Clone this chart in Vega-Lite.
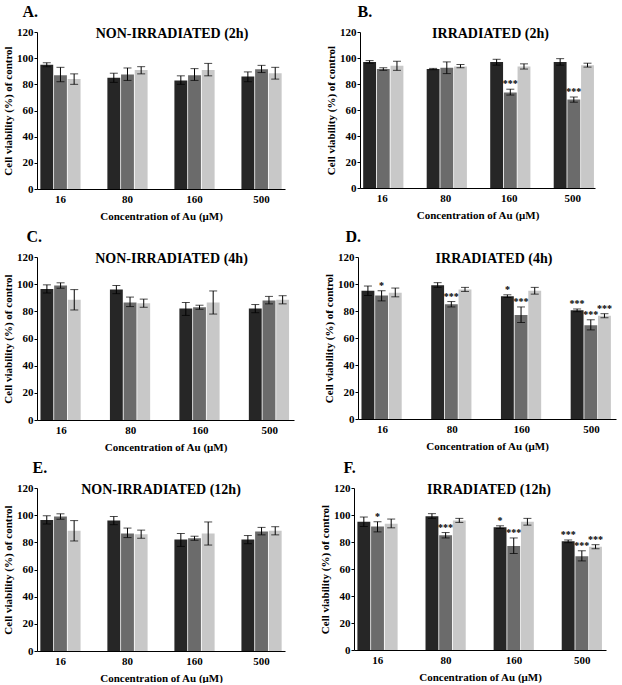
{
  "$schema": "https://vega.github.io/schema/vega-lite/v6.json",
  "padding": {"left": 2, "top": 4, "right": 2, "bottom": 0},
  "background": "white",
  "datasets": {
    "d": [
      {"p":"A","c":"16","g":"1","v":95,"lo":93.5,"hi":96.5,"s":""},
      {"p":"A","c":"16","g":"2","v":87,"lo":82,"hi":93,"s":""},
      {"p":"A","c":"16","g":"3","v":84,"lo":80,"hi":88,"s":""},
      {"p":"A","c":"80","g":"1","v":85,"lo":81.5,"hi":88.5,"s":""},
      {"p":"A","c":"80","g":"2","v":87.5,"lo":83,"hi":92.5,"s":""},
      {"p":"A","c":"80","g":"3","v":91,"lo":88,"hi":93.5,"s":""},
      {"p":"A","c":"160","g":"1","v":83,"lo":80,"hi":86.5,"s":""},
      {"p":"A","c":"160","g":"2","v":87,"lo":83,"hi":92,"s":""},
      {"p":"A","c":"160","g":"3","v":91,"lo":86.5,"hi":96,"s":""},
      {"p":"A","c":"500","g":"1","v":86,"lo":82,"hi":89.5,"s":""},
      {"p":"A","c":"500","g":"2","v":91.5,"lo":89,"hi":94.5,"s":""},
      {"p":"A","c":"500","g":"3","v":88.5,"lo":84,"hi":93,"s":""},
      {"p":"B","c":"16","g":"1","v":97,"lo":96,"hi":98,"s":""},
      {"p":"B","c":"16","g":"2","v":91.5,"lo":90.5,"hi":92.5,"s":""},
      {"p":"B","c":"16","g":"3","v":94,"lo":90.5,"hi":97.5,"s":""},
      {"p":"B","c":"80","g":"1","v":91.5,"lo":91,"hi":92,"s":""},
      {"p":"B","c":"80","g":"2","v":92.5,"lo":88,"hi":97,"s":""},
      {"p":"B","c":"80","g":"3","v":93.5,"lo":92.5,"hi":95,"s":""},
      {"p":"B","c":"160","g":"1","v":97,"lo":94.5,"hi":99,"s":""},
      {"p":"B","c":"160","g":"2","v":73.5,"lo":71.5,"hi":76,"s":"***"},
      {"p":"B","c":"160","g":"3","v":93.5,"lo":91.5,"hi":95.5,"s":""},
      {"p":"B","c":"500","g":"1","v":97,"lo":94.5,"hi":99.5,"s":""},
      {"p":"B","c":"500","g":"2","v":68,"lo":66,"hi":70,"s":"***"},
      {"p":"B","c":"500","g":"3","v":94.5,"lo":93,"hi":96,"s":""},
      {"p":"C","c":"16","g":"1","v":96.5,"lo":93.5,"hi":99.5,"s":""},
      {"p":"C","c":"16","g":"2","v":99,"lo":97,"hi":101,"s":""},
      {"p":"C","c":"16","g":"3","v":88.5,"lo":81,"hi":96,"s":""},
      {"p":"C","c":"80","g":"1","v":96,"lo":93,"hi":99,"s":""},
      {"p":"C","c":"80","g":"2","v":86.5,"lo":83.5,"hi":90.5,"s":""},
      {"p":"C","c":"80","g":"3","v":86,"lo":83,"hi":89,"s":""},
      {"p":"C","c":"160","g":"1","v":82,"lo":77,"hi":86.5,"s":""},
      {"p":"C","c":"160","g":"2","v":83,"lo":81.5,"hi":84.5,"s":""},
      {"p":"C","c":"160","g":"3","v":86.5,"lo":78,"hi":95,"s":""},
      {"p":"C","c":"500","g":"1","v":82,"lo":79,"hi":85,"s":""},
      {"p":"C","c":"500","g":"2","v":88,"lo":85.5,"hi":91,"s":""},
      {"p":"C","c":"500","g":"3","v":88.5,"lo":85.5,"hi":91.5,"s":""},
      {"p":"D","c":"16","g":"1","v":95,"lo":91.5,"hi":98.5,"s":""},
      {"p":"D","c":"16","g":"2","v":91.5,"lo":87.5,"hi":95,"s":"*"},
      {"p":"D","c":"16","g":"3","v":93.5,"lo":90.5,"hi":97,"s":""},
      {"p":"D","c":"80","g":"1","v":99,"lo":97.5,"hi":101,"s":""},
      {"p":"D","c":"80","g":"2","v":85,"lo":83,"hi":87,"s":"***"},
      {"p":"D","c":"80","g":"3","v":96,"lo":94.5,"hi":97.5,"s":""},
      {"p":"D","c":"160","g":"1","v":91,"lo":90,"hi":92,"s":"*"},
      {"p":"D","c":"160","g":"2","v":77,"lo":71.5,"hi":83,"s":"***"},
      {"p":"D","c":"160","g":"3","v":95,"lo":92.5,"hi":97.5,"s":""},
      {"p":"D","c":"500","g":"1","v":80.5,"lo":79.5,"hi":81.5,"s":"***"},
      {"p":"D","c":"500","g":"2","v":69.5,"lo":66,"hi":73.5,"s":"***"},
      {"p":"D","c":"500","g":"3","v":76.5,"lo":75,"hi":78,"s":"***"},
      {"p":"E","c":"16","g":"1","v":96.5,"lo":93.5,"hi":99.5,"s":""},
      {"p":"E","c":"16","g":"2","v":99,"lo":97,"hi":101,"s":""},
      {"p":"E","c":"16","g":"3","v":88.5,"lo":81,"hi":96,"s":""},
      {"p":"E","c":"80","g":"1","v":96,"lo":93,"hi":99,"s":""},
      {"p":"E","c":"80","g":"2","v":86.5,"lo":83.5,"hi":90.5,"s":""},
      {"p":"E","c":"80","g":"3","v":86,"lo":83,"hi":89,"s":""},
      {"p":"E","c":"160","g":"1","v":82,"lo":77,"hi":86.5,"s":""},
      {"p":"E","c":"160","g":"2","v":83,"lo":81.5,"hi":84.5,"s":""},
      {"p":"E","c":"160","g":"3","v":86.5,"lo":78,"hi":95,"s":""},
      {"p":"E","c":"500","g":"1","v":82,"lo":79,"hi":85,"s":""},
      {"p":"E","c":"500","g":"2","v":88,"lo":85.5,"hi":91,"s":""},
      {"p":"E","c":"500","g":"3","v":88.5,"lo":85.5,"hi":91.5,"s":""},
      {"p":"F","c":"16","g":"1","v":95,"lo":91.5,"hi":98.5,"s":""},
      {"p":"F","c":"16","g":"2","v":91.5,"lo":87.5,"hi":95,"s":"*"},
      {"p":"F","c":"16","g":"3","v":93.5,"lo":90.5,"hi":97,"s":""},
      {"p":"F","c":"80","g":"1","v":99,"lo":97.5,"hi":101,"s":""},
      {"p":"F","c":"80","g":"2","v":85,"lo":83,"hi":87,"s":"***"},
      {"p":"F","c":"80","g":"3","v":96,"lo":94.5,"hi":97.5,"s":""},
      {"p":"F","c":"160","g":"1","v":91,"lo":90,"hi":92,"s":"*"},
      {"p":"F","c":"160","g":"2","v":77,"lo":71.5,"hi":83,"s":"***"},
      {"p":"F","c":"160","g":"3","v":95,"lo":92.5,"hi":97.5,"s":""},
      {"p":"F","c":"500","g":"1","v":80.5,"lo":79.5,"hi":81.5,"s":"***"},
      {"p":"F","c":"500","g":"2","v":69.5,"lo":66,"hi":73.5,"s":"***"},
      {"p":"F","c":"500","g":"3","v":76.5,"lo":75,"hi":78,"s":"***"}
    ]
  },
  "vconcat": [
    {
      "spacing": 40,
      "hconcat": [
        {
          "title": {"text": "A.", "anchor": "start", "fontSize": 16, "dx": 20, "offset": 6},
          "vconcat": [{
            "width": 248, "height": 157,
            "title": {"text": "NON-IRRADIATED (2h)", "offset": -15, "dx": 11},
            "data": {"name": "d"},
            "transform": [{"filter": "datum.p == 'A'"}],
            "encoding": {
              "x": {"field": "c", "type": "nominal", "sort": ["16","80","160","500"], "scale": {"paddingInner": 0.4, "paddingOuter": 0.05}, "title": "Concentration of Au (μM)"},
              "xOffset": {"field": "g", "type": "nominal", "scale": {"paddingInner": 0.06}}
            },
            "layer": [
              {"mark": {"type": "bar"}, "encoding": {"y": {"field": "v", "type": "quantitative", "scale": {"domain": [0,120]}, "title": "Cell viability (%) of control"}, "color": {"field": "g", "type": "nominal", "scale": {"domain": ["1","2","3"], "range": ["#262626","#6b6b6b","#c8c8c8"]}, "legend": null}}},
              {"mark": {"type": "rule", "color": "black", "strokeWidth": 1}, "encoding": {"y": {"field": "lo", "type": "quantitative", "scale": {"domain": [0,120]}, "title": "Cell viability (%) of control"}, "y2": {"field": "hi"}}},
              {"mark": {"type": "tick", "color": "black", "size": 8, "thickness": 1}, "encoding": {"y": {"field": "lo", "type": "quantitative", "scale": {"domain": [0,120]}, "title": "Cell viability (%) of control"}}},
              {"mark": {"type": "tick", "color": "black", "size": 8, "thickness": 1}, "encoding": {"y": {"field": "hi", "type": "quantitative", "scale": {"domain": [0,120]}, "title": "Cell viability (%) of control"}}},
              {"mark": {"type": "text", "baseline": "alphabetic", "dy": -2, "fontSize": 10, "fontWeight": "bold", "font": "Liberation Serif", "color": "black"}, "encoding": {"y": {"field": "hi", "type": "quantitative", "scale": {"domain": [0,120]}, "title": "Cell viability (%) of control"}, "text": {"field": "s"}}}
            ]
          }]
        },
        {
          "title": {"text": "B.", "anchor": "start", "fontSize": 16, "dx": 32, "offset": 6},
          "vconcat": [{
            "width": 235, "height": 156,
            "title": {"text": "IRRADIATED (2h)", "offset": -15, "dx": 13},
            "data": {"name": "d"},
            "transform": [{"filter": "datum.p == 'B'"}],
            "encoding": {
              "x": {"field": "c", "type": "nominal", "sort": ["16","80","160","500"], "scale": {"paddingInner": 0.4, "paddingOuter": 0.05}, "title": "Concentration of Au (μM)"},
              "xOffset": {"field": "g", "type": "nominal", "scale": {"paddingInner": 0.06}}
            },
            "layer": [
              {"mark": {"type": "bar"}, "encoding": {"y": {"field": "v", "type": "quantitative", "scale": {"domain": [0,120]}, "title": "Cell viability (%) of control"}, "color": {"field": "g", "type": "nominal", "scale": {"domain": ["1","2","3"], "range": ["#262626","#6b6b6b","#c8c8c8"]}, "legend": null}}},
              {"mark": {"type": "rule", "color": "black", "strokeWidth": 1}, "encoding": {"y": {"field": "lo", "type": "quantitative", "scale": {"domain": [0,120]}, "title": "Cell viability (%) of control"}, "y2": {"field": "hi"}}},
              {"mark": {"type": "tick", "color": "black", "size": 8, "thickness": 1}, "encoding": {"y": {"field": "lo", "type": "quantitative", "scale": {"domain": [0,120]}, "title": "Cell viability (%) of control"}}},
              {"mark": {"type": "tick", "color": "black", "size": 8, "thickness": 1}, "encoding": {"y": {"field": "hi", "type": "quantitative", "scale": {"domain": [0,120]}, "title": "Cell viability (%) of control"}}},
              {"mark": {"type": "text", "baseline": "alphabetic", "dy": -2, "fontSize": 10, "fontWeight": "bold", "font": "Liberation Serif", "color": "black"}, "encoding": {"y": {"field": "hi", "type": "quantitative", "scale": {"domain": [0,120]}, "title": "Cell viability (%) of control"}, "text": {"field": "s"}}}
            ]
          }]
        }
      ]
    },
    {
      "spacing": 29,
      "hconcat": [
        {
          "title": {"text": "C.", "anchor": "start", "fontSize": 16, "dx": 24, "offset": 6},
          "vconcat": [{
            "width": 257, "height": 163,
            "title": {"text": "NON-IRRADIATED (4h)", "offset": -15, "dx": 6},
            "data": {"name": "d"},
            "transform": [{"filter": "datum.p == 'C'"}],
            "encoding": {
              "x": {"field": "c", "type": "nominal", "sort": ["16","80","160","500"], "scale": {"paddingInner": 0.4, "paddingOuter": 0.05}, "title": "Concentration of Au (μM)"},
              "xOffset": {"field": "g", "type": "nominal", "scale": {"paddingInner": 0.06}}
            },
            "layer": [
              {"mark": {"type": "bar"}, "encoding": {"y": {"field": "v", "type": "quantitative", "scale": {"domain": [0,120]}, "title": "Cell viability (%) of control"}, "color": {"field": "g", "type": "nominal", "scale": {"domain": ["1","2","3"], "range": ["#262626","#6b6b6b","#c8c8c8"]}, "legend": null}}},
              {"mark": {"type": "rule", "color": "black", "strokeWidth": 1}, "encoding": {"y": {"field": "lo", "type": "quantitative", "scale": {"domain": [0,120]}, "title": "Cell viability (%) of control"}, "y2": {"field": "hi"}}},
              {"mark": {"type": "tick", "color": "black", "size": 8, "thickness": 1}, "encoding": {"y": {"field": "lo", "type": "quantitative", "scale": {"domain": [0,120]}, "title": "Cell viability (%) of control"}}},
              {"mark": {"type": "tick", "color": "black", "size": 8, "thickness": 1}, "encoding": {"y": {"field": "hi", "type": "quantitative", "scale": {"domain": [0,120]}, "title": "Cell viability (%) of control"}}},
              {"mark": {"type": "text", "baseline": "alphabetic", "dy": -2, "fontSize": 10, "fontWeight": "bold", "font": "Liberation Serif", "color": "black"}, "encoding": {"y": {"field": "hi", "type": "quantitative", "scale": {"domain": [0,120]}, "title": "Cell viability (%) of control"}, "text": {"field": "s"}}}
            ]
          }]
        },
        {
          "title": {"text": "D.", "anchor": "start", "fontSize": 16, "dx": 22, "offset": 6},
          "vconcat": [{
            "width": 258, "height": 162,
            "title": {"text": "IRRADIATED (4h)", "offset": -15, "dx": 7},
            "data": {"name": "d"},
            "transform": [{"filter": "datum.p == 'D'"}],
            "encoding": {
              "x": {"field": "c", "type": "nominal", "sort": ["16","80","160","500"], "scale": {"paddingInner": 0.4, "paddingOuter": 0.05}, "title": "Concentration of Au (μM)"},
              "xOffset": {"field": "g", "type": "nominal", "scale": {"paddingInner": 0.06}}
            },
            "layer": [
              {"mark": {"type": "bar"}, "encoding": {"y": {"field": "v", "type": "quantitative", "scale": {"domain": [0,120]}, "title": "Cell viability (%) of control"}, "color": {"field": "g", "type": "nominal", "scale": {"domain": ["1","2","3"], "range": ["#262626","#6b6b6b","#c8c8c8"]}, "legend": null}}},
              {"mark": {"type": "rule", "color": "black", "strokeWidth": 1}, "encoding": {"y": {"field": "lo", "type": "quantitative", "scale": {"domain": [0,120]}, "title": "Cell viability (%) of control"}, "y2": {"field": "hi"}}},
              {"mark": {"type": "tick", "color": "black", "size": 8, "thickness": 1}, "encoding": {"y": {"field": "lo", "type": "quantitative", "scale": {"domain": [0,120]}, "title": "Cell viability (%) of control"}}},
              {"mark": {"type": "tick", "color": "black", "size": 8, "thickness": 1}, "encoding": {"y": {"field": "hi", "type": "quantitative", "scale": {"domain": [0,120]}, "title": "Cell viability (%) of control"}}},
              {"mark": {"type": "text", "baseline": "alphabetic", "dy": -2, "fontSize": 10, "fontWeight": "bold", "font": "Liberation Serif", "color": "black"}, "encoding": {"y": {"field": "hi", "type": "quantitative", "scale": {"domain": [0,120]}, "title": "Cell viability (%) of control"}, "text": {"field": "s"}}}
            ]
          }]
        }
      ]
    },
    {
      "spacing": 34,
      "hconcat": [
        {
          "title": {"text": "E.", "anchor": "start", "fontSize": 16, "dx": 30, "offset": 6},
          "vconcat": [{
            "width": 248, "height": 163,
            "title": {"text": "NON-IRRADIATED (12h)", "offset": -15, "dx": 0},
            "data": {"name": "d"},
            "transform": [{"filter": "datum.p == 'E'"}],
            "encoding": {
              "x": {"field": "c", "type": "nominal", "sort": ["16","80","160","500"], "scale": {"paddingInner": 0.4, "paddingOuter": 0.05}, "title": "Concentration of Au (μM)"},
              "xOffset": {"field": "g", "type": "nominal", "scale": {"paddingInner": 0.06}}
            },
            "layer": [
              {"mark": {"type": "bar"}, "encoding": {"y": {"field": "v", "type": "quantitative", "scale": {"domain": [0,120]}, "title": "Cell viability (%) of control"}, "color": {"field": "g", "type": "nominal", "scale": {"domain": ["1","2","3"], "range": ["#262626","#6b6b6b","#c8c8c8"]}, "legend": null}}},
              {"mark": {"type": "rule", "color": "black", "strokeWidth": 1}, "encoding": {"y": {"field": "lo", "type": "quantitative", "scale": {"domain": [0,120]}, "title": "Cell viability (%) of control"}, "y2": {"field": "hi"}}},
              {"mark": {"type": "tick", "color": "black", "size": 8, "thickness": 1}, "encoding": {"y": {"field": "lo", "type": "quantitative", "scale": {"domain": [0,120]}, "title": "Cell viability (%) of control"}}},
              {"mark": {"type": "tick", "color": "black", "size": 8, "thickness": 1}, "encoding": {"y": {"field": "hi", "type": "quantitative", "scale": {"domain": [0,120]}, "title": "Cell viability (%) of control"}}},
              {"mark": {"type": "text", "baseline": "alphabetic", "dy": -2, "fontSize": 10, "fontWeight": "bold", "font": "Liberation Serif", "color": "black"}, "encoding": {"y": {"field": "hi", "type": "quantitative", "scale": {"domain": [0,120]}, "title": "Cell viability (%) of control"}, "text": {"field": "s"}}}
            ]
          }]
        },
        {
          "title": {"text": "F.", "anchor": "start", "fontSize": 16, "dx": 24, "offset": 6},
          "vconcat": [{
            "width": 252, "height": 162,
            "title": {"text": "IRRADIATED (12h)", "offset": -15, "dx": 9},
            "data": {"name": "d"},
            "transform": [{"filter": "datum.p == 'F'"}],
            "encoding": {
              "x": {"field": "c", "type": "nominal", "sort": ["16","80","160","500"], "scale": {"paddingInner": 0.4, "paddingOuter": 0.05}, "title": "Concentration of Au (μM)"},
              "xOffset": {"field": "g", "type": "nominal", "scale": {"paddingInner": 0.06}}
            },
            "layer": [
              {"mark": {"type": "bar"}, "encoding": {"y": {"field": "v", "type": "quantitative", "scale": {"domain": [0,120]}, "title": "Cell viability (%) of control"}, "color": {"field": "g", "type": "nominal", "scale": {"domain": ["1","2","3"], "range": ["#262626","#6b6b6b","#c8c8c8"]}, "legend": null}}},
              {"mark": {"type": "rule", "color": "black", "strokeWidth": 1}, "encoding": {"y": {"field": "lo", "type": "quantitative", "scale": {"domain": [0,120]}, "title": "Cell viability (%) of control"}, "y2": {"field": "hi"}}},
              {"mark": {"type": "tick", "color": "black", "size": 8, "thickness": 1}, "encoding": {"y": {"field": "lo", "type": "quantitative", "scale": {"domain": [0,120]}, "title": "Cell viability (%) of control"}}},
              {"mark": {"type": "tick", "color": "black", "size": 8, "thickness": 1}, "encoding": {"y": {"field": "hi", "type": "quantitative", "scale": {"domain": [0,120]}, "title": "Cell viability (%) of control"}}},
              {"mark": {"type": "text", "baseline": "alphabetic", "dy": -2, "fontSize": 10, "fontWeight": "bold", "font": "Liberation Serif", "color": "black"}, "encoding": {"y": {"field": "hi", "type": "quantitative", "scale": {"domain": [0,120]}, "title": "Cell viability (%) of control"}, "text": {"field": "s"}}}
            ]
          }]
        }
      ]
    }
  ],
  "spacing": 8,
  "config": {
    "view": {"stroke": null},
    "font": "Liberation Serif",
    "title": {"font": "Liberation Serif", "fontWeight": "bold", "fontSize": 14, "color": "black"},
    "axis": {"labelFont": "Liberation Serif", "titleFont": "Liberation Serif", "labelFontWeight": "bold", "titleFontWeight": "bold", "labelFontSize": 11, "titleFontSize": 11, "labelColor": "black", "titleColor": "black", "domainColor": "black", "tickColor": "black", "grid": false},
    "axisY": {"tickSize": 3, "labelPadding": 1, "titlePadding": 3, "values": [0,20,40,60,80,100,120]},
    "axisX": {"ticks": false, "labelPadding": 4, "titlePadding": 6, "labelAngle": 0, "titleFontSize": 11}
  }
}
